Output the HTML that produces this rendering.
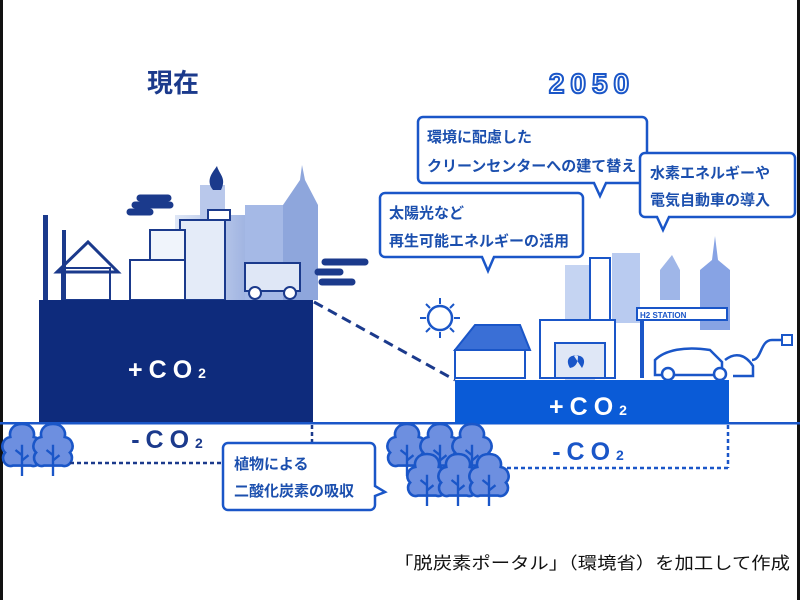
<!DOCTYPE html>
<html><head><meta charset="utf-8"><style>
html,body{margin:0;padding:0;background:#fff}
svg{display:block}
text{font-family:"Liberation Sans","Noto Sans CJK JP",sans-serif}
.b{font-weight:bold}
</style></head><body>
<svg width="800" height="600" viewBox="0 0 800 600" xmlns="http://www.w3.org/2000/svg">
<defs>
<linearGradient id="g1" x1="0" x2="1" y1="0" y2="0"><stop offset="0" stop-color="#dfe7f6"/><stop offset="1" stop-color="#8fa6dc"/></linearGradient>
<g id="tree"><path d="M0 -20 c-8 0 -10 6 -9 10 c-6 1 -8 8 -4 12 c-4 4 0 12 6 10 h14 c6 2 10 -6 6 -10 c4 -4 2 -11 -4 -12 c1 -4 -1 -10 -9 -10z" fill="#6d8fe0" stroke="#1a56c8" stroke-width="2"/><path d="M0 -4 v24 M0 4 l-5 -4 M0 8 l5 -4" stroke="#1a56c8" stroke-width="1.8" fill="none"/></g>
</defs>
<rect x="0" y="0" width="800" height="600" fill="#fff"/>
<rect x="0" y="0" width="3" height="600" fill="#111"/>
<rect x="797" y="0" width="3" height="600" fill="#111"/>

<text x="173" y="92" font-size="26" font-weight="bold" fill="#1b3a8c" text-anchor="middle">現在</text>
<text x="592" y="93" font-size="28" font-weight="bold" fill="#fff" stroke="#1a56c8" stroke-width="2" letter-spacing="6" text-anchor="middle">2050</text>

<!-- left city -->
<rect x="175" y="215" width="90" height="85" fill="url(#g1)"/>
<rect x="200" y="185" width="25" height="40" fill="#b9c8eb"/>
<rect x="245" y="205" width="40" height="95" fill="#a5b9e6"/>
<polygon points="283,300 283,205 300,180 302,165 305,180 318,205 318,300" fill="#8ea6dc"/>
<rect x="180" y="220" width="45" height="80" fill="#e4ebf8" stroke="#1b3a8c" stroke-width="2"/>
<rect x="150" y="230" width="35" height="70" fill="#f0f4fb" stroke="#1b3a8c" stroke-width="2"/>
<rect x="130" y="260" width="55" height="40" fill="#fff" stroke="#1b3a8c" stroke-width="2"/>
<rect x="62" y="268" width="48" height="32" fill="#fff" stroke="#1b3a8c" stroke-width="2"/>
<polygon points="57,272 88,242 118,272" fill="none" stroke="#1b3a8c" stroke-width="3"/>
<rect x="43" y="215" width="5" height="85" fill="#1b3a8c"/>
<rect x="62" y="230" width="4" height="70" fill="#1b3a8c"/>
<path d="M135 205 h35 M130 212 h20 M140 198 h28" stroke="#1b3a8c" stroke-width="7" stroke-linecap="round"/>
<path d="M213 190 c-8 -10 0 -18 4 -24 c2 8 10 12 4 24z" fill="#1b3a8c"/>
<rect x="208" y="210" width="22" height="10" fill="#fff" stroke="#1b3a8c" stroke-width="2"/>
<rect x="245" y="263" width="55" height="28" fill="#dfe7f6" stroke="#1b3a8c" stroke-width="2"/>
<circle cx="255" cy="293" r="6" fill="#fff" stroke="#1b3a8c" stroke-width="2"/>
<circle cx="290" cy="293" r="6" fill="#fff" stroke="#1b3a8c" stroke-width="2"/>
<path d="M325 262 h40 M318 272 h22 M322 282 h30" stroke="#1b3a8c" stroke-width="7" stroke-linecap="round"/>

<rect x="39" y="300" width="274" height="124" fill="#0e2b7c"/>
<text x="170" y="378" font-size="25" font-weight="bold" fill="#fff" text-anchor="middle" letter-spacing="6">+CO<tspan font-size="14">2</tspan></text>

<rect x="0" y="422" width="800" height="2.5" fill="#1a56c8"/>
<text x="170" y="448" font-size="25" font-weight="bold" fill="#1b3a8c" text-anchor="middle" letter-spacing="6">-CO<tspan font-size="14">2</tspan></text>

<line x1="314" y1="302" x2="455" y2="380" stroke="#1b3a8c" stroke-width="3" stroke-dasharray="10,6"/>

<use href="#tree" transform="translate(22,450) scale(1.3)"/>
<use href="#tree" transform="translate(53,450) scale(1.3)"/>
<line x1="70" y1="463" x2="225" y2="463" stroke="#1b3a8c" stroke-width="2.5" stroke-dasharray="4,3"/>
<line x1="312" y1="425" x2="312" y2="455" stroke="#1b3a8c" stroke-width="2.5" stroke-dasharray="4,3"/>

<path d="M228 443 h142 a5 5 0 0 1 5 5 v38 l10 6 l-10 4 v9 a5 5 0 0 1 -5 5 h-142 a5 5 0 0 1 -5 -5 v-57 a5 5 0 0 1 5 -5z" fill="#fff" stroke="#1a56c8" stroke-width="2.5"/>
<text class="b" x="234" y="469" font-size="15" fill="#1b4fae">植物による</text>
<text class="b" x="234" y="496" font-size="15" fill="#1b4fae">二酸化炭素の吸収</text>

<!-- right city -->
<rect x="565" y="265" width="30" height="115" fill="#c5d4f2"/>
<rect x="612" y="253" width="28" height="70" fill="#b9cbf0"/>
<polygon points="660,300 660,270 672,255 680,270 680,300" fill="#9fb6e8"/>
<polygon points="700,330 700,270 712,260 715,236 718,260 730,270 730,330" fill="#87a3e4"/>
<rect x="590" y="258" width="20" height="65" fill="#fff" stroke="#1a56c8" stroke-width="2"/>
<rect x="540" y="320" width="75" height="58" fill="#fff" stroke="#1a56c8" stroke-width="2"/>
<rect x="555" y="343" width="50" height="35" fill="#dfe7f6" stroke="#1a56c8" stroke-width="2"/>
<path d="M570 368 c-6 -10 2 -14 8 -12 c0 8 -3 11 -8 12z M582 368 c6 -10 -2 -14 -8 -12" fill="#1a56c8"/>
<rect x="455" y="350" width="70" height="28" fill="#fff" stroke="#1a56c8" stroke-width="2"/>
<polygon points="455,350 475,325 520,325 530,350" fill="#3a6fd6" stroke="#1a56c8" stroke-width="2"/>
<circle cx="440" cy="318" r="12" fill="#fff" stroke="#1a56c8" stroke-width="2.5"/>
<path d="M440 298 v6 M440 332 v6 M420 318 h6 M454 318 h6 M426 304 l4 4 M450 328 l4 4 M454 304 l-4 4 M426 332 l4 -4" stroke="#1a56c8" stroke-width="2"/>
<rect x="637" y="308" width="90" height="12" fill="#fff" stroke="#1a56c8" stroke-width="2"/>
<text x="640" y="318" font-size="8" font-weight="bold" fill="#1a56c8">H2 STATION</text>
<rect x="640" y="320" width="4" height="58" fill="#1a56c8"/>
<path d="M655 375 v-15 c10 -10 30 -14 55 -10 l12 12 v13z" fill="#fff" stroke="#1a56c8" stroke-width="2.5"/>
<circle cx="668" cy="374" r="6" fill="#fff" stroke="#1a56c8" stroke-width="2.5"/>
<circle cx="720" cy="374" r="6" fill="#fff" stroke="#1a56c8" stroke-width="2.5"/>
<path d="M725 360 c10 -8 20 -6 28 6 v10 h-20" fill="#fff" stroke="#1a56c8" stroke-width="2.5"/>
<path d="M752 360 c10 0 8 -20 20 -20 h10" fill="none" stroke="#1a56c8" stroke-width="2.5"/>
<rect x="782" y="335" width="10" height="10" fill="#fff" stroke="#1a56c8" stroke-width="2"/>

<rect x="455" y="380" width="274" height="44" fill="#0a5bd7"/>
<text x="591" y="415" font-size="25" font-weight="bold" fill="#fff" text-anchor="middle" letter-spacing="6">+CO<tspan font-size="14">2</tspan></text>
<text x="591" y="460" font-size="25" font-weight="bold" fill="#1a56c8" text-anchor="middle" letter-spacing="6">-CO<tspan font-size="14">2</tspan></text>

<line x1="500" y1="468" x2="728" y2="468" stroke="#1a56c8" stroke-width="2.5" stroke-dasharray="4,3"/>
<line x1="728" y1="425" x2="728" y2="468" stroke="#1a56c8" stroke-width="2.5" stroke-dasharray="4,3"/>
<use href="#tree" transform="translate(407,450) scale(1.3)"/>
<use href="#tree" transform="translate(440,450) scale(1.3)"/>
<use href="#tree" transform="translate(472,450) scale(1.3)"/>
<use href="#tree" transform="translate(427,480) scale(1.3)"/>
<use href="#tree" transform="translate(458,480) scale(1.3)"/>
<use href="#tree" transform="translate(489,480) scale(1.3)"/>

<path d="M385 193 h193 a5 5 0 0 1 5 5 v54 a5 5 0 0 1 -5 5 h-84 l-6 14 l-6 -14 h-97 a5 5 0 0 1 -5 -5 v-54 a5 5 0 0 1 5 -5z" fill="#fff" stroke="#1a56c8" stroke-width="2.5"/>
<text class="b" x="389" y="218" font-size="15" fill="#1b4fae">太陽光など</text>
<text class="b" x="389" y="246" font-size="15" fill="#1b4fae">再生可能エネルギーの活用</text>

<path d="M423 117 h219 a5 5 0 0 1 5 5 v56 a5 5 0 0 1 -5 5 h-36 l-6 13 l-6 -13 h-171 a5 5 0 0 1 -5 -5 v-56 a5 5 0 0 1 5 -5z" fill="#fff" stroke="#1a56c8" stroke-width="2.5"/>
<text class="b" x="427" y="142" font-size="15" fill="#1b4fae">環境に配慮した</text>
<text class="b" x="427" y="171" font-size="15" fill="#1b4fae">クリーンセンターへの建て替え</text>

<path d="M645 153 h145 a5 5 0 0 1 5 5 v54 a5 5 0 0 1 -5 5 h-121 l-6 13 l-6 -13 h-12 a5 5 0 0 1 -5 -5 v-54 a5 5 0 0 1 5 -5z" fill="#fff" stroke="#1a56c8" stroke-width="2.5"/>
<text class="b" x="650" y="178" font-size="15" fill="#1b4fae">水素エネルギーや</text>
<text class="b" x="650" y="205" font-size="15" fill="#1b4fae">電気自動車の導入</text>

<text x="394" y="569" font-size="17" fill="#111" textLength="396" lengthAdjust="spacingAndGlyphs">「脱炭素ポータル」（環境省）を加工して作成</text>
</svg>
</body></html>
